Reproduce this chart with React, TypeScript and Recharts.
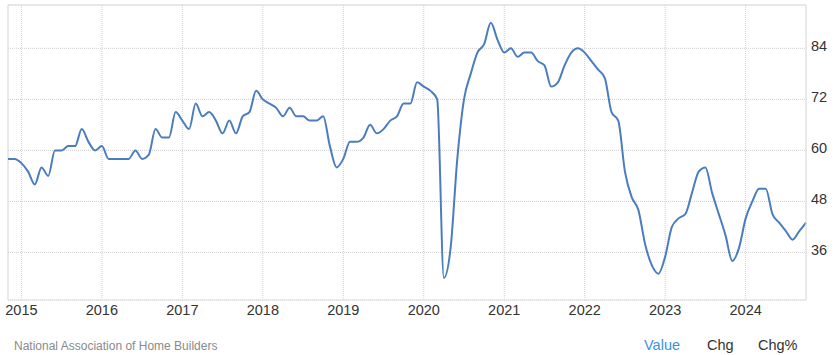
import { LineChart, Line, XAxis, YAxis, CartesianGrid, ReferenceLine } from 'recharts';

// monthly, Nov 2014 .. Oct 2024
const months: string[] = [];
for (let y = 2014; y <= 2024; y++) {
  for (let m = 1; m <= 12; m++) {
    if (y === 2014 && m < 11) continue;
    if (y === 2024 && m > 10) continue;
    months.push(`${y}-${String(m).padStart(2, '0')}`);
  }
}

const values = [
  58, 58, // 2014
  57, 55, 52, 56, 54, 60, 60, 61, 61, 65, 62, 60, // 2015
  61, 58, 58, 58, 58, 60, 58, 59, 65, 63, 63, 69, // 2016
  67, 65, 71, 68, 69, 67, 64, 67, 64, 68, 69, 74, // 2017
  72, 71, 70, 68, 70, 68, 68, 67, 67, 68, 61, 56, // 2018
  58, 62, 62, 63, 66, 64, 65, 67, 68, 71, 71, 76, // 2019
  75, 74, 72, 30, 37, 58, 72, 78, 83, 85, 90, 86, // 2020
  83, 84, 82, 83, 83, 81, 80, 75, 76, 80, 83, 84, // 2021
  83, 81, 79, 77, 69, 67, 55, 49, 46, 38, 33, 31, // 2022
  35, 42, 44, 45, 50, 55, 56, 50, 45, 40, 34, 37, // 2023
  44, 48, 51, 51, 45, 43, 41, 39, 41, 43, // 2024
];

const yearTicks = ['2015-01', '2016-01', '2017-01', '2018-01', '2019-01', '2020-01', '2021-01', '2022-01', '2023-01', '2024-01'];
const valueTicks = [36, 48, 60, 72, 84];
const yDomain = [24.8, 94.2];

const data = months.map((month, i) => ({ month, value: values[i] }));

const FONT = '"Liberation Sans", Arial, sans-serif';

function RightTick({ x, y, payload }: any) {
  return (
    <text x={x} y={y} dy={3} fontSize={14.5} fill="#333" fontFamily={FONT} textAnchor="start">
      {payload.value}
    </text>
  );
}

export default function App() {
  return (
    <div style={{ position: 'absolute', left: 0, top: 0, width: 835, height: 355, background: '#fff', fontFamily: FONT }}>
      <LineChart width={835} height={335} data={data} margin={{ top: 5, right: 0, bottom: 0, left: 8 }}>
        <CartesianGrid stroke="#cfcfcf" strokeDasharray="1 1" />
        <XAxis
          dataKey="month"
          ticks={yearTicks}
          interval={0}
          tickFormatter={(v: string) => v.slice(0, 4)}
          tickLine={false}
          tickSize={0}
          tickMargin={5}
          height={35}
          axisLine={{ stroke: '#e0e0e0' }}
          tick={{ fontSize: 14.5, fill: '#333', fontFamily: FONT }}
        />
        <YAxis
          orientation="right"
          domain={yDomain}
          ticks={valueTicks}
          allowDataOverflow
          width={29}
          tickLine={false}
          tickSize={0}
          tickMargin={5}
          axisLine={{ stroke: '#e0e0e0' }}
          tick={<RightTick />}
        />
        <ReferenceLine x={months[0]} stroke="#e0e0e0" />
        <ReferenceLine y={yDomain[1]} stroke="#cfcfcf" strokeDasharray="1 1" />
        <Line
          type="monotone"
          dataKey="value"
          stroke="#4a7dbf"
          strokeWidth={2}
          dot={false}
          isAnimationActive={false}
        />
      </LineChart>
      <div style={{ position: 'absolute', left: 14, top: 339.8, fontSize: 12, lineHeight: 1, color: '#8a8a8a', whiteSpace: 'nowrap' }}>
        National Association of Home Builders
      </div>
      <div style={{ position: 'absolute', left: 644, top: 337.7, fontSize: 14.5, lineHeight: 1, color: '#3d8fe6' }}>Value</div>
      <div style={{ position: 'absolute', left: 707, top: 337.7, fontSize: 14.5, lineHeight: 1, color: '#333' }}>Chg</div>
      <div style={{ position: 'absolute', left: 758, top: 337.7, fontSize: 14.5, lineHeight: 1, color: '#333' }}>Chg%</div>
    </div>
  );
}
